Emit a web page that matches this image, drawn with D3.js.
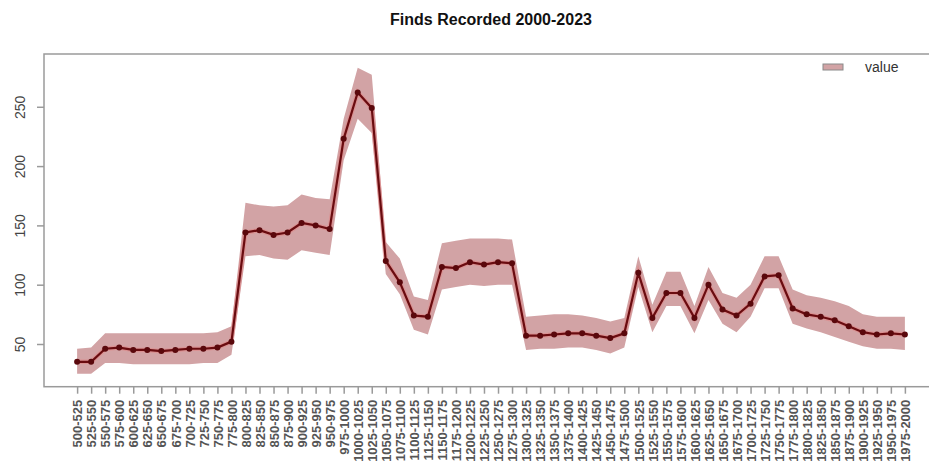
<!DOCTYPE html>
<html>
<head>
<meta charset="utf-8">
<script src="https://cdn.jsdelivr.net/npm/d3@7/dist/d3.min.js"></script>
<style>
html,body{margin:0;padding:0;background:#fff;}
svg{display:block;}
text{font-family:"Liberation Sans",Arial,Helvetica,sans-serif;}
</style>
</head>
<body>
<svg id="chart" width="929" height="466"></svg>
<script>
// categories: 25-year periods
const startYears = [];
for (let y = 500; y < 2000; y += 25) startYears.push(y);
const categories = startYears.map(y => y + "-" + (y + 25));

const values = [35,35,46,47,45,45,44,45,46,46,47,52,144,146,142,144,152,150,147,223,
  262,249,120,102,74,73,115,114,119,117,119,118,57,57,58,59,59,57,55,59,
  110,72,93,93,72,100,79,74,84,107,108,80,75,73,70,65,60,58,59,58];
const lower = [25,25,34,34,33,33,33,33,33,34,34,41,124,125,122,121,129,127,125,205,
  240,228,109,92,62,58,96,98,100,99,100,100,45,46,46,47,47,45,42,47,
  98,60,82,82,59,87,67,60,73,97,97,67,63,60,56,52,48,46,46,45];
const upper = [46,47,59,59,59,59,59,59,59,59,60,65,169,167,166,167,176,173,172,240,
  283,277,136,122,90,87,135,137,139,139,139,138,73,74,75,75,74,72,69,72,
  124,83,111,111,82,115,93,89,100,124,124,96,91,89,86,82,75,73,73,73];
const yTicks = [50,100,150,200,250];
const title = "Finds Recorded 2000-2023";
const legendLabel = "value";

const svg = d3.select("#chart");
const L = 44, R = 938, T = 54, B = 386.7;
const n = categories.length;
const pad = (n - 1) * 0.04;
const x = d3.scaleLinear().domain([-pad, n - 1 + pad]).range([L, R]);
const y = d3.scaleLinear().domain([14, 294.5]).range([B, T]);

const data = categories.map((c, i) => ({c, i, v: values[i], lo: lower[i], hi: upper[i]}));

// title
svg.append("text").attr("x", (L + R) / 2).attr("y", 25)
  .attr("text-anchor", "middle").attr("font-weight", "bold")
  .attr("font-size", "16px").attr("fill", "#111").text(title);

// band
svg.append("path").datum(data)
  .attr("d", d3.area().x(d => x(d.i)).y0(d => y(d.lo)).y1(d => y(d.hi)))
  .attr("fill", "#d2a3a5");

// line
svg.append("path").datum(data)
  .attr("d", d3.line().x(d => x(d.i)).y(d => y(d.v)))
  .attr("fill", "none").attr("stroke", "#e08585").attr("stroke-width", 4.5).attr("opacity", 0.6);
svg.append("path").datum(data)
  .attr("d", d3.line().x(d => x(d.i)).y(d => y(d.v)))
  .attr("fill", "none").attr("stroke", "#6a0c10").attr("stroke-width", 2.2);
svg.selectAll("circle.pt").data(data).enter().append("circle")
  .attr("cx", d => x(d.i)).attr("cy", d => y(d.v)).attr("r", 3)
  .attr("fill", "#5a080c");

// frame
svg.append("rect").attr("x", L).attr("y", T).attr("width", R - L).attr("height", B - T)
  .attr("fill", "none").attr("stroke", "#9a9a9a").attr("stroke-width", 1.5);

// y axis
const yAx = svg.append("g").attr("transform", `translate(${L},0)`)
  .call(d3.axisLeft(y).tickValues(yTicks).tickSize(7).tickSizeOuter(0).tickFormat(d3.format("d")));
yAx.select(".domain").remove();
yAx.selectAll(".tick line").attr("stroke", "#9a9a9a").attr("stroke-width", 1.5);
yAx.selectAll(".tick text")
  .attr("transform", "rotate(-90)")
  .attr("x", 0).attr("y", -24).attr("dy", "0.35em")
  .attr("text-anchor", "middle").attr("font-size", "14px").attr("fill", "#444");

// x axis
const xAx = svg.append("g").attr("transform", `translate(0,${B})`)
  .call(d3.axisBottom(x).tickValues(d3.range(n)).tickSize(7).tickSizeOuter(0)
    .tickFormat(i => categories[i]));
xAx.select(".domain").remove();
xAx.selectAll(".tick line").attr("stroke", "#9a9a9a").attr("stroke-width", 1.5);
xAx.selectAll(".tick text")
  .attr("transform", "rotate(-90)")
  .attr("x", -13).attr("y", 0).attr("dy", "0.36em")
  .attr("text-anchor", "end").attr("font-size", "13px").attr("font-weight", "bold").attr("fill", "#555");

// legend
svg.append("rect").attr("x", 823).attr("y", 64).attr("width", 20).attr("height", 6)
  .attr("fill", "#d2a3a5").attr("stroke", "#8a8a8a").attr("stroke-width", 1);
svg.append("text").attr("x", 865).attr("y", 72).attr("font-size", "14px").attr("fill", "#333").text(legendLabel);
</script>
</body>
</html>
